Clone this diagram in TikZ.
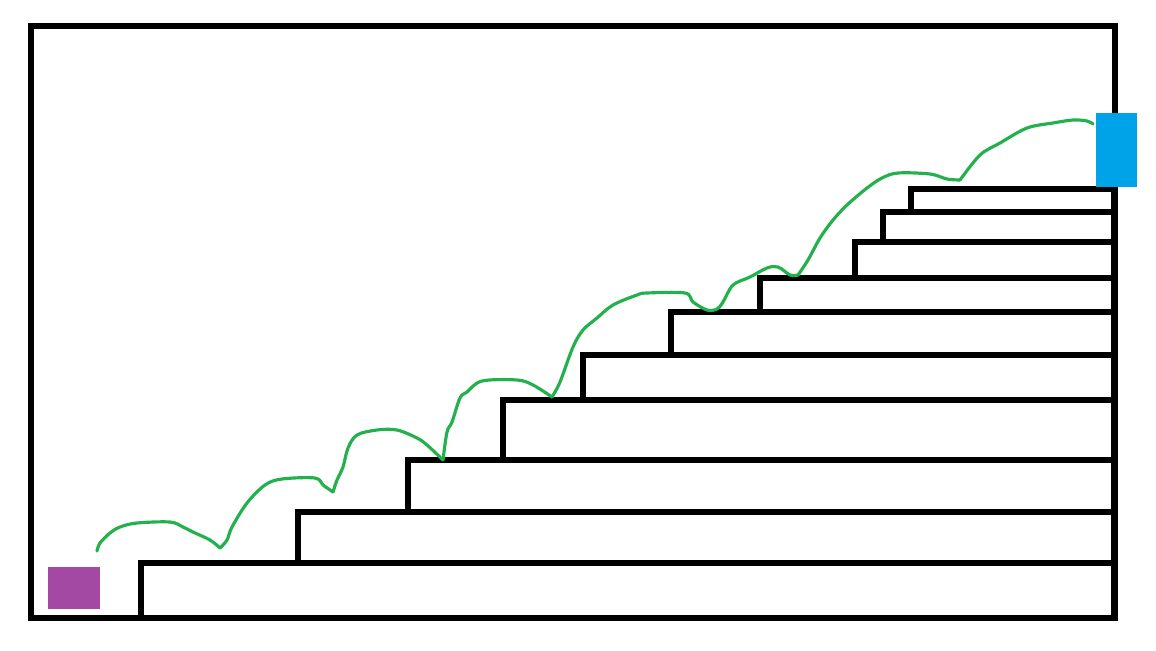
\documentclass[tikz,border=0pt]{standalone}
\usepackage{tikz}
\usetikzlibrary{calc}
\definecolor{hopgreen}{HTML}{22B14C}
\definecolor{goalblue}{HTML}{00A2E8}
\definecolor{startpurple}{HTML}{A349A4}
\begin{document}
\begin{tikzpicture}[x=0.02cm,y=-0.02cm,
  frame/.style={draw,line width=3.2pt},
  stepbox/.style={draw,fill=white,line width=3.2pt},
  hop/.style={hopgreen,line width=1.8pt,line cap=round,line join=round,smooth,tension=0.55}]
\useasboundingbox (0,0) rectangle (1156,650);
\draw[frame](31,26) rectangle (1115,618);
\foreach \l/\t/\b in {141/563/618,298/512/563,408/460/512,503/400/460,583/355/400,671/312/355,760/278/312,855/242/278,883/212/242,911/189/212}
  \draw[stepbox](\l,\t) rectangle (1114,\b);
\fill[startpurple](48,567) rectangle (100,609);
\fill[goalblue](1096,113) rectangle (1137,187);
% jumps up the stairs
\draw[hop] plot coordinates {(97,551)(100,543)(110,533)(120,527)(137,523)(170,522)(183,527)(193,532)(210,540)(220,548)};
\draw[hop] plot coordinates {(220,548)(227,540)(232,527)(247,503)(265,485)(282,479)(315,478)(323,485)(333,492)};
\draw[hop] plot coordinates {(333,492)(337,480)(343,467)(348,448)(357,435)(377,430)(397,430)(417,438)(427,445)(443,460)};
\draw[hop] plot coordinates {(443,460)(447,432)(452,422)(460,398)(467,392)(482,381)(517,380)(533,385)(552,397)};
\draw[hop] plot coordinates {(552,397)(560,382)(573,347)(583,330)(597,318)(613,305)(637,295)(647,293)(685,293)(693,302)(707,310)(717,309)(723,302)(733,285)(750,277)(767,268)(778,267)(790,275)(798,275)};
\draw[hop] plot coordinates {(798,275)(808,260)(820,238)(833,220)(847,205)(867,188)(882,178)(898,173)(930,174)(947,179)(960,180)};
\draw[hop] plot coordinates {(960,180)(980,155)(1000,143)(1027,128)(1053,123)(1073,120)(1087,121)(1093,124)};
\end{tikzpicture}
\end{document}
